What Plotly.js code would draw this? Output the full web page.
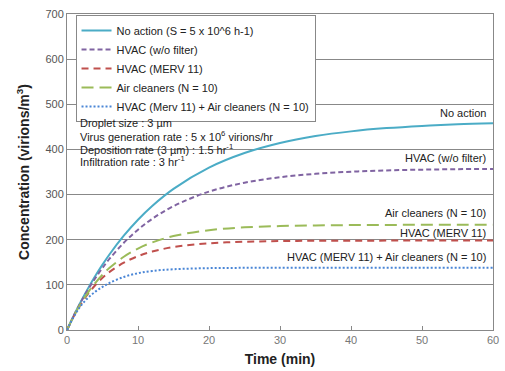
<!DOCTYPE html>
<html>
<head>
<meta charset="utf-8">
<script src="https://cdn.plot.ly/plotly-3.0.1.min.js"></script>
<style>html,body{margin:0;padding:0;background:#fff;}#chart{width:505px;height:371px;}</style>
</head>
<body>
<div id="chart"></div>
<script>
const timeMin = [0,1,2,3,4,5,6,8,10,12,15,20,25,30,35,40,45,50,55,60];
const noAction = [0,33.5,64.5,93.3,120,144.8,167.8,208.9,244.3,274.8,312.7,359.7,392,414.2,429.5,440,447.2,452.1,455.5,457.9];
const hvacNoFilter = [0,33.1,63.1,90.4,115.1,137.5,157.9,193.2,222.3,246.2,274.4,306.6,326.3,338.5,346,350.6,353.5,355.2,356.3,356.9];
const hvacMerv11 = [0,31.8,58.5,80.9,99.7,115.5,128.7,149.2,163.6,173.7,183.7,192,195.5,197,197.6,197.8,198,198,198,198];
const airCleaners = [0,32.2,60,84,104.6,122.4,137.7,162.2,180.5,194,208.1,221.2,227.4,230.3,231.7,232.4,232.8,233,233,233];
const hvacMervAir = [0,30.6,54.5,72,85,95.5,104.5,117.5,125.8,130.8,134.6,137,137.7,137.9,138,138,138,138,138,138];

const seriesNames = ["No action (S = 5 x 10^6 h-1)","HVAC (w/o filter)","HVAC (MERV 11)","Air cleaners (N = 10)","HVAC (Merv 11) + Air cleaners (N = 10)"];
const endLabels = ["No action","HVAC (w/o filter)","Air cleaners (N = 10)","HVAC (MERV 11)","HVAC (MERV 11) + Air cleaners (N = 10)"];
const endLabelY = [481,382,260,215.5,162];
const infoLines = ["Droplet size : 3 µm","Virus generation rate : 5 x 10<sup>6</sup> virions/hr","Deposition rate (3 µm) : 1.5 hr<sup>-1</sup>","Infiltration rate : 3 hr<sup>-1</sup>"];
const infoLineY = [458,430,402,374];

const FONT = 'Liberation Sans, Arial, sans-serif';
const styles = [
  {color:'#4BACC6', dash:'solid'},
  {color:'#8064A2', dash:'5px,3px'},
  {color:'#C0504D', dash:'7px,5px'},
  {color:'#9BBB59', dash:'12px,6px'},
  {color:'#4A86D6', dash:'2px,2px'}
];
const ys = [noAction,hvacNoFilter,hvacMerv11,airCleaners,hvacMervAir];
const traces = ys.map((y,i)=>({
  x: timeMin, y: y, type:'scatter', mode:'lines', name: seriesNames[i],
  line:{color:styles[i].color, dash:styles[i].dash, width:2, shape:'spline', smoothing:1}
}));

const annotations = endLabels.map((t,i)=>({
  x: 59.3, y: endLabelY[i], xref:'x', yref:'y', text:t, showarrow:false,
  xanchor:'right', yanchor:'middle', font:{family:FONT, size:11, color:'#222'}
}));
infoLines.forEach((t,i)=>annotations.push({
  x: 1.5, y: infoLineY[i], xref:'x', yref:'y', text:t, showarrow:false,
  xanchor:'left', yanchor:'middle', align:'left',
  font:{family:FONT, size:11, color:'#222'}
}));

const layout = {
  width:505, height:371,
  margin:{l:67, r:12, t:14, b:41},
  paper_bgcolor:'#fff', plot_bgcolor:'#fff',
  showlegend:true,
  legend:{x:0.02, y:0.997, xanchor:'left', yanchor:'top', bgcolor:'#fff', bordercolor:'#888', borderwidth:1,
          font:{family:FONT, size:11, color:'#222'}, tracegroupgap:0, itemwidth:30},
  xaxis:{range:[0,60], tickvals:[0,10,20,30,40,50,60], ticks:'inside', ticklen:4, tickcolor:'#888',
         showgrid:false, zeroline:false, showline:true, linecolor:'#888', mirror:true, linewidth:1,
         tickfont:{family:FONT, size:11, color:'#777'},
         title:{text:'<b>Time (min)</b>', font:{family:FONT, size:14, color:'#222'}, standoff:8}},
  yaxis:{range:[0,700], tickvals:[0,100,200,300,400,500,600,700], ticks:'', showgrid:true, gridcolor:'#888', gridwidth:1,
         zeroline:false, showline:true, linecolor:'#888', mirror:true, linewidth:1,
         tickfont:{family:FONT, size:11, color:'#555'},
         title:{text:'<b>Concentration (virions/m<sup>3</sup>)</b>', font:{family:FONT, size:14, color:'#222'}, standoff:12}},
  annotations: annotations
};
Plotly.newPlot('chart', traces, layout, {staticPlot:true, displayModeBar:false});
</script>
</body>
</html>
